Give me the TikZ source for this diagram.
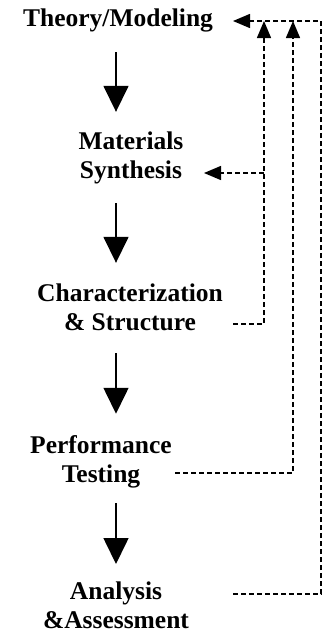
\documentclass[tikz,border=0pt]{standalone}
\usepackage{fontspec}
\setmainfont{Liberation Serif}
\usetikzlibrary{arrows.meta}
\begin{document}
\begin{tikzpicture}[x=1pt,y=-1pt,
  lbl/.style={font=\fontsize{25.5}{28.5}\selectfont\bfseries, align=center, inner sep=0pt, anchor=base},
  flow/.style={line width=1.6pt, -{Triangle[width=25pt,length=26pt]}},
  fb/.style={line width=1.4pt, dash pattern=on 5pt off 3pt, -{Triangle[width=14pt,length=17pt]}}]
\useasboundingbox (0,0) rectangle (326,633);
\node[lbl] (tm) at (118,26) {Theory/Modeling};
\node[lbl] (ms) at (131,178) {Materials\\Synthesis};
\node[lbl] (cs) at (130,330) {Characterization\\\& Structure};
\node[lbl] (pt) at (101,482) {Performance\\Testing};
\node[lbl] (aa) at (116,628) {Analysis\\\&Assessment};
% flow axis
\coordinate (ax) at (116,0);
\draw[flow, shorten <=20.5pt, shorten >=19.8pt] (tm.south -| ax) -- (ms.north -| ax);
\draw[flow, shorten <=19.5pt, shorten >=20.8pt] (ms.south -| ax) -- (cs.north -| ax);
\draw[flow, shorten <=22.5pt, shorten >=21.6pt] (cs.south -| ax) -- (pt.north -| ax);
\draw[flow, shorten <=15.5pt, shorten >=17.6pt] (pt.south -| ax) -- (aa.north -| ax);
% feedback coordinates
\coordinate (csout) at (233,324);
\coordinate (ptout) at (175,473);
\coordinate (aaout) at (233,594);
\coordinate (b1) at (264,21);
\coordinate (b2) at (293,21);
\coordinate (b3) at (321,21);
\coordinate (tmin) at (233,21);
\coordinate (msin) at (204,173);
% feedback lines
\draw[fb] (csout) -| (b1);
\draw[fb] (msin -| b1) -- (msin);
\draw[fb] (ptout) -| (b2);
\draw[fb] (aaout) -| (b3) -- (tmin);
\end{tikzpicture}
\end{document}
